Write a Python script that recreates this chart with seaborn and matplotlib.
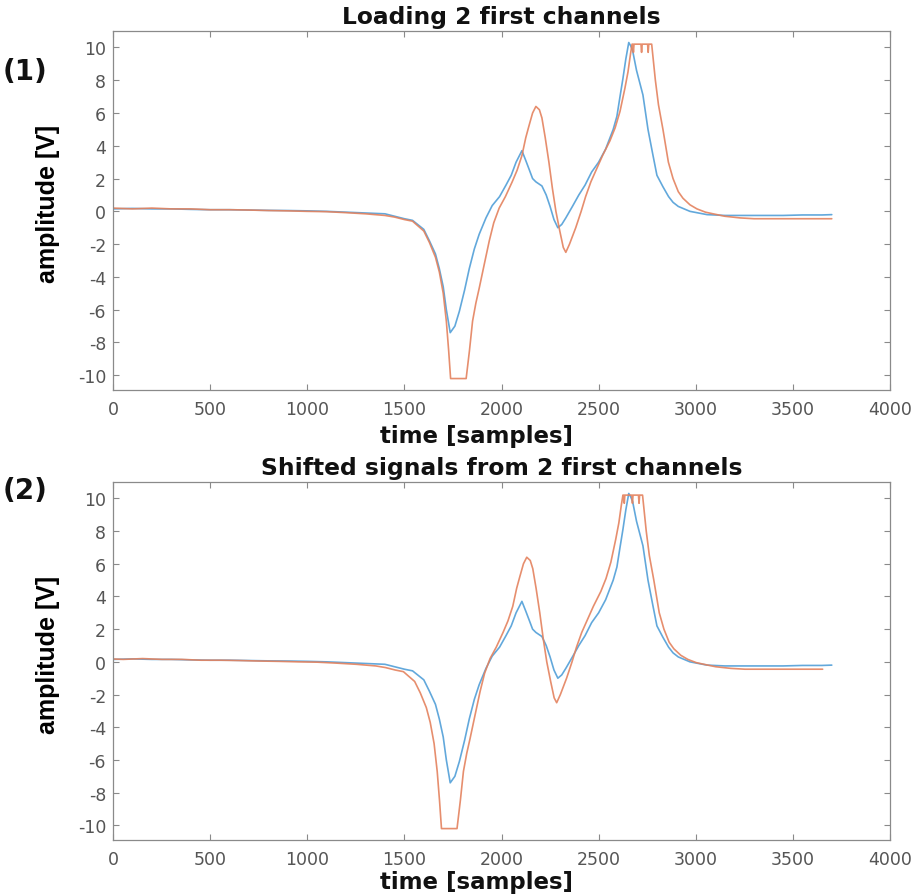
import numpy as np
import pandas as pd
import matplotlib
matplotlib.use("Agg")
import matplotlib.pyplot as plt
import seaborn as sns

# ---------------- data ----------------
ch1_t = [0, 100, 200, 300, 400, 500, 600, 700, 800, 900, 1000, 1100, 1200, 1300,
         1400, 1450, 1500, 1542, 1600, 1629, 1660, 1680, 1700, 1716, 1736, 1760,
         1783, 1810, 1834, 1860, 1885, 1920, 1952, 1990, 2023, 2050, 2075, 2105,
         2125, 2141, 2160, 2177, 2208, 2230, 2250, 2270, 2290, 2310, 2331, 2365,
         2398, 2430, 2464, 2500, 2536, 2575, 2594, 2610, 2625, 2640, 2655, 2665,
         2675, 2695, 2728, 2754, 2780, 2800, 2831, 2860, 2883, 2910, 2970, 3058, 3150,
         3250, 3350, 3450, 3550, 3650, 3700]
ch1_v = [0.15, 0.18, 0.15, 0.15, 0.12, 0.10, 0.10, 0.08, 0.06, 0.05, 0.03, 0.0, -0.05, -0.10,
         -0.15, -0.30, -0.45, -0.55, -1.1, -1.8, -2.6, -3.5, -4.6, -6.0, -7.4, -7.0,
         -6.1, -4.8, -3.5, -2.3, -1.4, -0.4, 0.35, 0.9, 1.6, 2.2, 3.0, 3.7,
         3.1, 2.6, 2.0, 1.8, 1.55, 1.0, 0.3, -0.5, -1.0, -0.8, -0.4, 0.3,
         1.0, 1.6, 2.4, 3.0, 3.8, 5.0, 5.8, 7.0, 8.1, 9.3, 10.3, 10.1,
         9.8, 8.6, 7.1, 5.0, 3.4, 2.2, 1.5, 0.9, 0.55, 0.3, 0.0, -0.2, -0.25,
         -0.25, -0.25, -0.25, -0.22, -0.22, -0.2]

ch2_t = [0, 100, 200, 300, 400, 500, 600, 700, 800, 900, 1000, 1100, 1200, 1300,
         1400, 1450, 1500, 1542, 1600, 1629, 1660, 1680, 1700, 1716, 1728, 1738,
         1818, 1835, 1851, 1868, 1885, 1910, 1937, 1960, 1988, 2020, 2055, 2080,
         2105, 2125, 2141, 2160, 2177, 2195, 2208, 2225, 2244, 2262, 2280, 2300,
         2318, 2331, 2350, 2382, 2410, 2433, 2460, 2490, 2520, 2558, 2585, 2610,
         2635, 2651, 2664, 2672, 2676, 2679, 2682, 2718, 2721, 2724, 2752, 2755, 2758,
         2773, 2792, 2808, 2831, 2859, 2883, 2910, 2934, 2970, 3006, 3050, 3089,
         3150, 3228, 3300, 3400, 3500, 3600, 3700]
ch2_v = [0.20, 0.15, 0.20, 0.15, 0.15, 0.10, 0.10, 0.08, 0.05, 0.03, 0.0, -0.02, -0.08, -0.15,
         -0.25, -0.35, -0.5, -0.6, -1.2, -1.9, -2.8, -3.7, -5.0, -6.7, -8.5, -10.2,
         -10.2, -8.5, -6.7, -5.6, -4.7, -3.3, -1.8, -0.7, 0.2, 0.9, 1.8, 2.5,
         3.4, 4.5, 5.2, 6.0, 6.4, 6.2, 5.7, 4.5, 3.0, 1.4, 0.0, -1.2,
         -2.2, -2.5, -2.0, -1.0, 0.0, 0.9, 1.8, 2.6, 3.4, 4.3, 5.1, 6.1,
         7.5, 8.5, 9.6, 10.2, 10.2, 9.7, 10.2, 10.2, 9.7, 10.2, 10.2, 9.7, 10.2,
         10.2, 8.0, 6.5, 5.0, 3.0, 2.0, 1.2, 0.8, 0.4, 0.15, -0.05, -0.15,
         -0.3, -0.4, -0.45, -0.45, -0.45, -0.45, -0.45]

shift_ch2 = -47   # samples, alignment shift applied in panel (2)

x_ticks = [0, 500, 1000, 1500, 2000, 2500, 3000, 3500, 4000]
y_ticks = [-10, -8, -6, -4, -2, 0, 2, 4, 6, 8, 10]
titles = ["Loading 2 first channels", "Shifted signals from 2 first channels"]
panel_tags = ["(1)", "(2)"]

# ---------------- styling ----------------
sns.set_style("white")
plt.rcParams["font.family"] = ["DejaVu Sans"]
plt.rcParams["axes.unicode_minus"] = False

blue = "#519fd8"
orange = "#e4825e"
axis_gray = "#8a8a8a"
tick_gray = "#555555"

fig = plt.figure(figsize=(9.17, 8.95), dpi=100)
ax1 = fig.add_axes([0.1232, 0.5631, 0.8474, 0.4011])
ax2 = fig.add_axes([0.1232, 0.0603, 0.8474, 0.4000])

def frame(ch2_offset):
    d1 = pd.DataFrame({"time": ch1_t, "amplitude": ch1_v, "channel": "ch1"})
    d2 = pd.DataFrame({"time": np.array(ch2_t) + ch2_offset, "amplitude": ch2_v, "channel": "ch2"})
    return pd.concat([d1, d2], ignore_index=True)

xlabel_y = [-0.096, -0.083]
for ax, off, title, tag, ty, xly in zip([ax1, ax2], [0, shift_ch2], titles, panel_tags,
                                        [0.9196, 0.4514], xlabel_y):
    df = frame(off)
    sns.lineplot(data=df, x="time", y="amplitude", hue="channel",
                 palette=[blue, orange], estimator=None, sort=False,
                 linewidth=1.2, alpha=0.9, legend=False, ax=ax)
    ax.set_xlim(0, 4000)
    ax.set_ylim(-10.9, 11.0)
    ax.set_xticks(x_ticks)
    ax.set_yticks(y_ticks)
    ax.tick_params(direction="in", length=4, width=0.8, color=axis_gray,
                   labelcolor=tick_gray, labelsize=12.5, top=True, right=True,
                   bottom=True, left=True)
    ax.tick_params(axis="x", pad=7)
    ax.tick_params(axis="y", pad=5)
    for s in ax.spines.values():
        s.set_visible(True)
        s.set_color(axis_gray)
        s.set_linewidth(0.9)
    ax.set_title(title, fontsize=16.8, fontweight="bold", color="#111111", pad=6)
    ax.set_xlabel("time [samples]", fontsize=16.5, fontweight="bold", color="#111111")
    ax.xaxis.set_label_coords(0.468, xly)
    ax.set_ylabel("amplitude [V]", fontsize=18, fontweight="bold", color="black",
                  family=["Liberation Sans", "DejaVu Sans"])
    ax.yaxis.set_label_coords(-0.068, 0.52)
    ax.grid(False)
    fig.text(0.003, ty, tag, fontsize=20, fontweight="bold", color="#111111",
             ha="left", va="center")

fig.savefig("out.png", dpi=100)
